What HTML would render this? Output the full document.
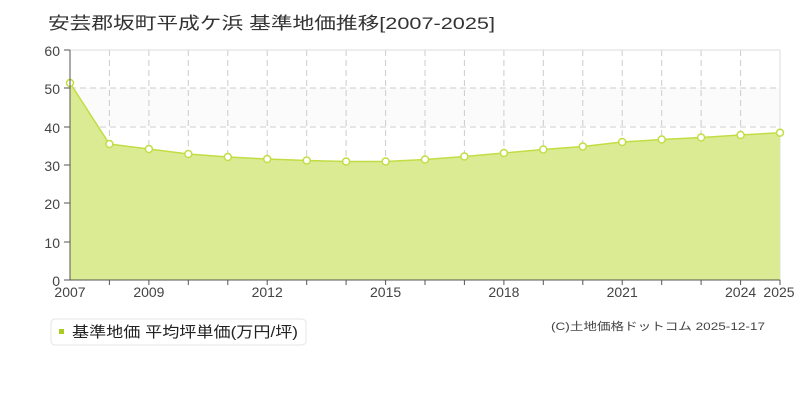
<!DOCTYPE html>
<html><head><meta charset="utf-8"><style>
body{margin:0;background:#fff;width:800px;height:400px;overflow:hidden}
svg text{font-family:"Liberation Sans","Noto Sans CJK JP",sans-serif}
</style></head><body>
<svg width="800" height="400" xmlns="http://www.w3.org/2000/svg">
<text x="48" y="29" font-size="17" fill="#333" textLength="447" lengthAdjust="spacingAndGlyphs">安芸郡坂町平成ケ浜 基準地価推移[2007-2025]</text>
<rect x="70" y="50" width="710" height="230" fill="#fff"/>
<rect x="70" y="88" width="710" height="38" fill="#fbfbfc"/>
<g stroke="#ccc" stroke-dasharray="6,4" stroke-width="1">
<line x1="70" y1="88" x2="780" y2="88"/><line x1="70" y1="127" x2="780" y2="127"/>
<line x1="70" y1="165" x2="780" y2="165"/><line x1="70" y1="203" x2="780" y2="203"/>
<line x1="70" y1="242" x2="780" y2="242"/>
<line x1="109.4" y1="50" x2="109.4" y2="280"/><line x1="148.9" y1="50" x2="148.9" y2="280"/>
<line x1="188.3" y1="50" x2="188.3" y2="280"/><line x1="227.8" y1="50" x2="227.8" y2="280"/>
<line x1="267.2" y1="50" x2="267.2" y2="280"/><line x1="306.7" y1="50" x2="306.7" y2="280"/>
<line x1="346.1" y1="50" x2="346.1" y2="280"/><line x1="385.6" y1="50" x2="385.6" y2="280"/>
<line x1="425" y1="50" x2="425" y2="280"/><line x1="464.4" y1="50" x2="464.4" y2="280"/>
<line x1="503.9" y1="50" x2="503.9" y2="280"/><line x1="543.3" y1="50" x2="543.3" y2="280"/>
<line x1="582.8" y1="50" x2="582.8" y2="280"/><line x1="622.2" y1="50" x2="622.2" y2="280"/>
<line x1="661.7" y1="50" x2="661.7" y2="280"/><line x1="701.1" y1="50" x2="701.1" y2="280"/>
<line x1="740.6" y1="50" x2="740.6" y2="280"/>
</g>
<line x1="70" y1="50" x2="780" y2="50" stroke="#ddd"/>
<line x1="780" y1="50" x2="780" y2="280" stroke="#ddd"/>
<polygon fill="#dbeb94" points="70,280 70,83 109.4,144 148.9,149 188.3,154 227.8,157 267.2,159 306.7,160.5 346.1,161.5 385.6,161.5 425,159.5 464.4,156.5 503.9,153 543.3,149.5 582.8,146.5 622.2,142 661.7,139.5 701.1,137.5 740.6,135 780,132.7 780,280"/>
<polyline fill="none" stroke="#c2dd44" stroke-width="1.5" points="70,83 109.4,144 148.9,149 188.3,154 227.8,157 267.2,159 306.7,160.5 346.1,161.5 385.6,161.5 425,159.5 464.4,156.5 503.9,153 543.3,149.5 582.8,146.5 622.2,142 661.7,139.5 701.1,137.5 740.6,135 780,132.7"/>
<g fill="#fff" stroke="#c2dd44" stroke-width="1.5">
<circle cx="70" cy="83" r="3.5"/><circle cx="109.4" cy="144" r="3.5"/><circle cx="148.9" cy="149" r="3.5"/><circle cx="188.3" cy="154" r="3.5"/><circle cx="227.8" cy="157" r="3.5"/><circle cx="267.2" cy="159" r="3.5"/><circle cx="306.7" cy="160.5" r="3.5"/><circle cx="346.1" cy="161.5" r="3.5"/><circle cx="385.6" cy="161.5" r="3.5"/><circle cx="425" cy="159.5" r="3.5"/><circle cx="464.4" cy="156.5" r="3.5"/><circle cx="503.9" cy="153" r="3.5"/><circle cx="543.3" cy="149.5" r="3.5"/><circle cx="582.8" cy="146.5" r="3.5"/><circle cx="622.2" cy="142" r="3.5"/><circle cx="661.7" cy="139.5" r="3.5"/><circle cx="701.1" cy="137.5" r="3.5"/><circle cx="740.6" cy="135" r="3.5"/><circle cx="780" cy="132.7" r="3.5"/>
</g>
<g stroke="#555" stroke-width="1">
<line x1="70" y1="50" x2="70" y2="280"/><line x1="64" y1="280" x2="780" y2="280"/>
<line x1="64" y1="50" x2="70" y2="50"/><line x1="64" y1="88" x2="70" y2="88"/><line x1="64" y1="127" x2="70" y2="127"/><line x1="64" y1="165" x2="70" y2="165"/><line x1="64" y1="203" x2="70" y2="203"/><line x1="64" y1="242" x2="70" y2="242"/>
<line x1="109.4" y1="280" x2="109.4" y2="285"/><line x1="148.9" y1="280" x2="148.9" y2="285"/><line x1="188.3" y1="280" x2="188.3" y2="285"/><line x1="227.8" y1="280" x2="227.8" y2="285"/><line x1="267.2" y1="280" x2="267.2" y2="285"/><line x1="306.7" y1="280" x2="306.7" y2="285"/><line x1="346.1" y1="280" x2="346.1" y2="285"/><line x1="385.6" y1="280" x2="385.6" y2="285"/><line x1="425" y1="280" x2="425" y2="285"/><line x1="464.4" y1="280" x2="464.4" y2="285"/><line x1="503.9" y1="280" x2="503.9" y2="285"/><line x1="543.3" y1="280" x2="543.3" y2="285"/><line x1="582.8" y1="280" x2="582.8" y2="285"/><line x1="622.2" y1="280" x2="622.2" y2="285"/><line x1="661.7" y1="280" x2="661.7" y2="285"/><line x1="701.1" y1="280" x2="701.1" y2="285"/><line x1="740.6" y1="280" x2="740.6" y2="285"/><line x1="780" y1="280" x2="780" y2="285"/>
</g>
<g font-size="14" fill="#444" text-anchor="end">
<text x="60" y="56">60</text><text x="60" y="94">50</text><text x="60" y="133">40</text><text x="60" y="171">30</text><text x="60" y="209">20</text><text x="60" y="248">10</text><text x="60" y="286">0</text>
</g>
<g font-size="14" fill="#444" text-anchor="middle">
<text x="70" y="297">2007</text><text x="148.9" y="297">2009</text><text x="267.2" y="297">2012</text><text x="385.6" y="297">2015</text><text x="503.9" y="297">2018</text><text x="622.2" y="297">2021</text><text x="740.6" y="297">2024</text><text x="779" y="297">2025</text>
</g>
<rect x="51" y="319" width="255" height="26" rx="4" fill="#fff" stroke="#e4e4e4"/>
<rect x="59" y="329" width="5" height="5" fill="#aacc22"/>
<text x="72" y="337" font-size="15" fill="#222" textLength="226" lengthAdjust="spacingAndGlyphs">基準地価 平均坪単価(万円/坪)</text>
<text x="551" y="330" font-size="11" fill="#444" textLength="214" lengthAdjust="spacingAndGlyphs">(C)土地価格ドットコム 2025-12-17</text>
</svg>
</body></html>
